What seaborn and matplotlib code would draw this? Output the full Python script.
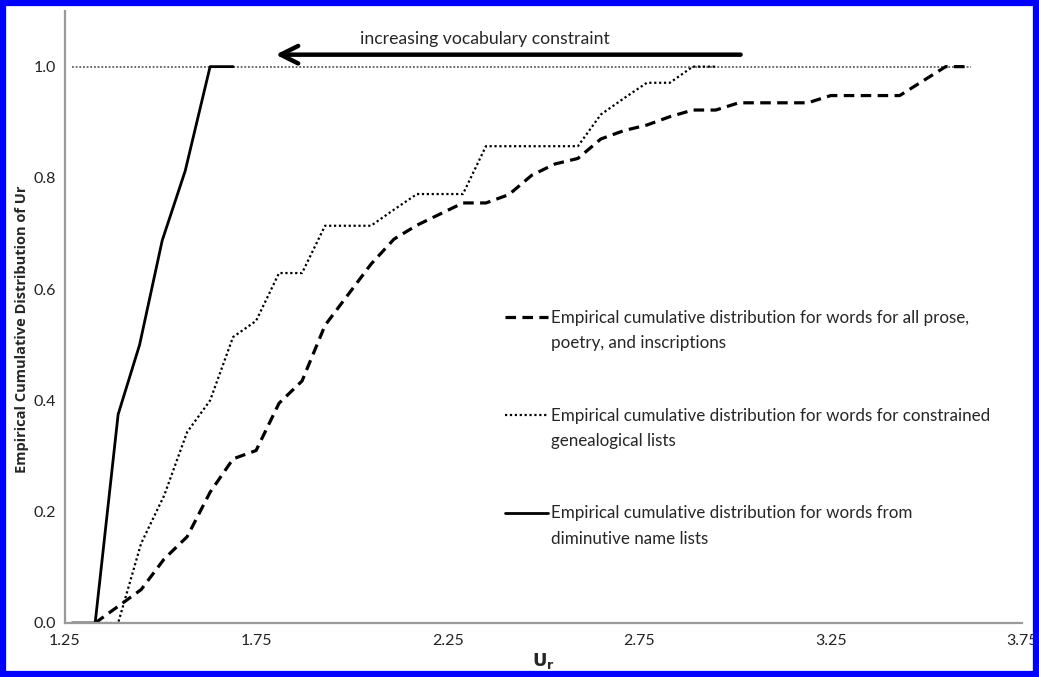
import matplotlib
matplotlib.use("Agg")
import matplotlib.pyplot as plt
from matplotlib.patches import Rectangle
import seaborn as sns

# Ur values (x) and empirical CDF values (y) for the three word groups
prose_x = [1.33, 1.39, 1.45, 1.51, 1.57, 1.63, 1.69, 1.75, 1.81, 1.87, 1.93, 1.99, 2.05,
           2.11, 2.17, 2.23, 2.29, 2.35, 2.41, 2.47, 2.53, 2.59, 2.65, 2.71, 2.77, 2.83,
           2.89, 2.95, 3.01, 3.07, 3.13, 3.19, 3.25, 3.31, 3.37, 3.43, 3.49, 3.55, 3.61]
prose_y = [0.0, 0.03, 0.06, 0.115, 0.155, 0.235, 0.295, 0.31, 0.395, 0.435, 0.535, 0.59, 0.645,
           0.69, 0.715, 0.735, 0.755, 0.755, 0.77, 0.805, 0.825, 0.835, 0.87, 0.885, 0.895, 0.91,
           0.922, 0.922, 0.935, 0.935, 0.935, 0.935, 0.948, 0.948, 0.948, 0.948, 0.974, 1.0, 1.0]

genea_x = [1.33, 1.39, 1.45, 1.51, 1.57, 1.63, 1.69, 1.75, 1.81, 1.87, 1.93, 1.99, 2.05,
           2.11, 2.17, 2.23, 2.29, 2.35, 2.41, 2.47, 2.53, 2.59, 2.65, 2.71, 2.77, 2.83,
           2.89, 2.95]
genea_y = [0.0, 0.0, 0.143, 0.229, 0.343, 0.4, 0.514, 0.543, 0.629, 0.629, 0.714, 0.714, 0.714,
           0.743, 0.771, 0.771, 0.771, 0.857, 0.857, 0.857, 0.857, 0.857, 0.914, 0.943, 0.971, 0.971,
           1.0, 1.0]

dimin_x = [1.27, 1.33, 1.39, 1.446, 1.505, 1.565, 1.63, 1.69]
dimin_y = [0.0, 0.0, 0.375, 0.5, 0.6875, 0.8125, 1.0, 1.0]

x_ticks = [1.25, 1.75, 2.25, 2.75, 3.25, 3.75]
y_ticks = [0.0, 0.2, 0.4, 0.6, 0.8, 1.0]

labels = [
    "Empirical cumulative distribution for words for all prose,\npoetry, and inscriptions",
    "Empirical cumulative distribution for words for constrained\ngenealogical lists",
    "Empirical cumulative distribution for words from\ndiminutive name lists",
]

sns.set_style("white")
plt.rcParams['font.family'] = ['Lato', 'DejaVu Sans']

fig = plt.figure(figsize=(10.39, 6.77), dpi=100)
ax = fig.add_axes([64.5 / 1039, 54 / 677, 957.8 / 1039, 612 / 677])

dash_style = (0, (3.3, 2.0))
dot_style = (0, (1.0, 1.2))

# reference line at 1.0
ax.hlines(1.0, 1.27, 3.615, colors='#444444', linestyles=(0, (1.2, 1.2)), linewidth=1.1, zorder=1)

sns.lineplot(x=prose_x, y=prose_y, ax=ax, color='black', linewidth=2.3, linestyle=dash_style)
sns.lineplot(x=genea_x, y=genea_y, ax=ax, color='black', linewidth=1.6, linestyle=dot_style)
sns.lineplot(x=dimin_x, y=dimin_y, ax=ax, color='black', linewidth=2.0)

ax.set_xlim(1.25, 3.75)
ax.set_ylim(0, 1.1)
ax.set_xticks(x_ticks)
ax.set_xticklabels([f"{t:.2f}" for t in x_ticks])
ax.set_yticks(y_ticks)
ax.set_yticklabels([f"{t:.1f}" for t in y_ticks])
ax.tick_params(axis='both', labelsize=11.5, colors='#999999', labelcolor='#222222',
               length=4, width=1.2, direction='out', pad=2)
ax.tick_params(axis='x', pad=4)

for side in ['top', 'right']:
    ax.spines[side].set_visible(False)
for side in ['left', 'bottom']:
    ax.spines[side].set_color('#999999')
    ax.spines[side].set_linewidth(1.6)

ax.set_xlabel(r"$\mathbf{U_r}$", fontsize=13, labelpad=2)
ax.set_ylabel("Empirical Cumulative Distribution of Ur", fontsize=10.5, fontweight='bold',
              family=['Open Sans', 'DejaVu Sans'])
ax.yaxis.set_label_coords(-0.037, 0.48)

# arrow and note
ax.annotate("", xy=(1.794, 1.0215), xytext=(3.022, 1.0215),
            arrowprops=dict(arrowstyle="->,head_length=0.7,head_width=0.35",
                            color='black', lw=3.2, mutation_scale=18))
ax.text(2.348, 1.05, "increasing vocabulary constraint", ha='center', va='center', fontsize=12.7)

# legend drawn by hand, handle beside the first line of each entry
styles = [(dash_style, 2.3), (dot_style, 1.6), ('-', 2.0)]
entry_y = [0.5, 0.34, 0.18]
for (ls, lw), lab, ey in zip(styles, labels, entry_y):
    ax.plot([0.46, 0.505], [ey, ey], transform=ax.transAxes, color='black',
            linestyle=ls, linewidth=lw)
    t = ax.text(0.508, ey + 0.012, lab, transform=ax.transAxes, ha='left', va='top',
                fontsize=12.25)
    t.set_linespacing(1.75)

fig.patches.append(Rectangle((3 / 1039, 3 / 677), 1 - 6 / 1039, 1 - 6 / 677,
                             transform=fig.transFigure, fill=False,
                             edgecolor='#0000ff', linewidth=4.5, zorder=10))

fig.savefig("out.png", dpi=100)
